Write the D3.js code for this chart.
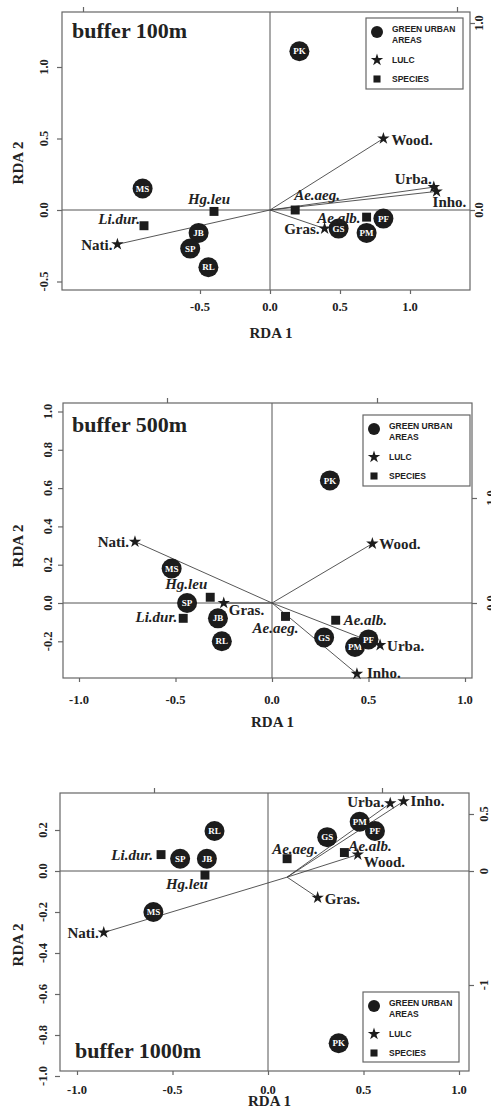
<!DOCTYPE html>
<html>
<head>
<meta charset="utf-8">
<script src="https://cdn.jsdelivr.net/npm/d3@7"></script>
<style>
  body { margin: 0; background: #fff; }
  svg { display: block; font-family: "Liberation Serif", "Times New Roman", serif; }
</style>
</head>
<body>
<svg id="chart" width="491" height="1107"></svg>
<script>
// category names
const siteCodes = ["PK", "MS", "JB", "SP", "RL", "GS", "PM", "PF"];
const lulcNames = ["Wood.", "Urba.", "Inho.", "Gras.", "Nati."];
const speciesNames = ["Ae.aeg.", "Ae.alb.", "Hg.leu", "Li.dur."];

// RDA1 / RDA2 scores (same order as the names above)
const sites100 = [[0.21, 1.11], [-0.91, 0.15], [-0.51, -0.16], [-0.57, -0.27], [-0.44, -0.40], [0.49, -0.13], [0.69, -0.16], [0.81, -0.06]];
const lulc100 = [[0.81, 0.50], [1.17, 0.16], [1.19, 0.13], [0.39, -0.13], [-1.09, -0.24]];
const species100 = [[0.18, 0.0], [0.69, -0.05], [-0.40, -0.01], [-0.90, -0.11]];
const origin100 = [0, 0];

const sites500 = [[0.30, 0.64], [-0.52, 0.18], [-0.28, -0.08], [-0.44, 0.0], [-0.26, -0.20], [0.27, -0.18], [0.43, -0.23], [0.50, -0.19]];
const lulc500 = [[0.52, 0.31], [0.56, -0.22], [0.44, -0.37], [-0.25, 0.0], [-0.71, 0.32]];
const species500 = [[0.07, -0.07], [0.33, -0.09], [-0.32, 0.03], [-0.46, -0.08]];
const origin500 = [0, 0];

const sites1000 = [[0.37, -0.84], [-0.60, -0.20], [-0.32, 0.06], [-0.46, 0.06], [-0.28, 0.195], [0.31, 0.165], [0.48, 0.24], [0.56, 0.195]];
const lulc1000 = [[0.47, 0.08], [0.64, 0.33], [0.71, 0.34], [0.26, -0.13], [-0.86, -0.30]];
const species1000 = [[0.10, 0.06], [0.40, 0.09], [-0.33, -0.02], [-0.56, 0.08]];
const origin1000 = [0.10, -0.03];

// tick labels
const xTicks100 = [-0.5, 0, 0.5, 1];
const yTicks100 = [-0.5, 0, 0.5, 1];
const xTicks500 = [-1, -0.5, 0, 0.5, 1];
const yTicks500 = [-0.2, 0, 0.2, 0.4, 0.6, 0.8, 1];
const xTicks1000 = [-1, -0.5, 0, 0.5, 1];
const yTicks1000 = [0.2, 0, -0.2, -0.4, -0.6, -0.8, -1];

const legendItems = [
  {type: "circle", lines: ["GREEN URBAN", "AREAS"]},
  {type: "star", lines: ["LULC"]},
  {type: "square", lines: ["SPECIES"]}
];

// layout of each panel (pixels)
const panels = [
  {
    title: "buffer 100m", sites: sites100, lulc: lulc100, species: species100, origin: origin100,
    xTicks: xTicks100, yTicks: yTicks100,
    box: {left: 62, right: 470, top: 12, bottom: 290}, x0: 270, y0: 210, xUnit: 140, yUnit: 143,
    sec: 187, topTicks: [-1, 1], rightTicks: [0, 1], rightFmt: ".1f", rightGap: 13,
    titlePos: [72, 38], yLabY: 163, xLabY: 338, tickY: 311, yTickGap: 14,
    legend: {x: 366, y: 18, w: 97, h: 71},
    labels: {
      "Wood.": [8, 6, "start"], "Urba.": [-2, -3, "end"], "Inho.": [-4, 16, "start"],
      "Gras.": [-5, 5, "end"], "Nati.": [-5, 6, "end"],
      "Ae.aeg.": [-1, -10, "start"], "Ae.alb.": [-6, 6, "end"], "Hg.leu": [-5, -7, "middle"], "Li.dur.": [-4, -2, "end"]
    }
  },
  {
    title: "buffer 500m", sites: sites500, lulc: lulc500, species: species500, origin: origin500,
    xTicks: xTicks500, yTicks: yTicks500,
    box: {left: 63, right: 472, top: 403, bottom: 678}, x0: 272, y0: 603, xUnit: 193, yUnit: 191.5,
    sec: 105, topTicks: [-1, 1], rightTicks: [0, 1], rightFmt: ".1f", rightGap: 23,
    titlePos: [72, 432], yLabY: 546, xLabY: 727, tickY: 704, yTickGap: 11,
    legend: {x: 363, y: 415, w: 107, h: 71},
    labels: {
      "Wood.": [7, 5, "start"], "Urba.": [7, 6, "start"], "Inho.": [10, 4, "start"],
      "Gras.": [5, 12, "start"], "Nati.": [-6, 5, "end"],
      "Ae.aeg.": [-10, 17, "middle"], "Ae.alb.": [8, 5, "start"], "Hg.leu": [-3, -8, "end"], "Li.dur.": [-6, 4, "end"]
    }
  },
  {
    title: "buffer 1000m", sites: sites1000, lulc: lulc1000, species: species1000, origin: origin1000,
    xTicks: xTicks1000, yTicks: yTicks1000,
    box: {left: 60, right: 469, top: 793, bottom: 1071}, x0: 268, y0: 871, xUnit: 191, yUnit: 205,
    sec: 114, topTicks: [-1, 1], rightTicks: [0.5, 0, -1], rightFmt: "~g", rightGap: 19,
    titlePos: [75, 1058], yLabY: 945, xLabY: 1106, tickY: 1094, yTickGap: 13,
    legend: {x: 363, y: 992, w: 96, h: 70},
    labels: {
      "Wood.": [6, 12, "start"], "Urba.": [-6, 4, "end"], "Inho.": [7, 5, "start"],
      "Gras.": [7, 6, "start"], "Nati.": [-5, 5, "end"],
      "Ae.aeg.": [8, -5, "middle"], "Ae.alb.": [4, -2, "start"], "Hg.leu": [3, 14, "end"], "Li.dur.": [-8, 5, "end"]
    }
  }
];

const ink = "#222";
const fmt = d => d3.format(".1f")(d).replace("\u2212", "-");

const svg = d3.select("#chart");

const star = d3.symbol().type(d3.symbolStar).size(48);
const square = d3.symbol().type(d3.symbolSquare).size(80);

function vText(g, x, y, txt) {
  return g.append("text")
    .attr("transform", `translate(${x},${y}) rotate(-90)`)
    .attr("text-anchor", "middle")
    .text(txt);
}

panels.forEach(p => {
  const b = p.box;
  const g = svg.append("g");

  const x = d3.scaleLinear()
    .domain([(b.left - p.x0) / p.xUnit, (b.right - p.x0) / p.xUnit])
    .range([b.left, b.right]);
  const y = d3.scaleLinear()
    .domain([(p.y0 - b.bottom) / p.yUnit, (p.y0 - b.top) / p.yUnit])
    .range([b.bottom, b.top]);
  // secondary (species) scales on top and right
  const x2 = d3.scaleLinear()
    .domain([(b.left - p.x0) / p.sec, (b.right - p.x0) / p.sec])
    .range([b.left, b.right]);
  const y2 = d3.scaleLinear()
    .domain([(p.y0 - b.bottom) / p.sec, (p.y0 - b.top) / p.sec])
    .range([b.bottom, b.top]);

  // zero lines
  g.append("line")
    .attr("x1", b.left).attr("x2", b.right)
    .attr("y1", y(0)).attr("y2", y(0))
    .attr("stroke", "#555").attr("stroke-width", 1);
  g.append("line")
    .attr("x1", x(0)).attr("x2", x(0))
    .attr("y1", b.top).attr("y2", b.bottom)
    .attr("stroke", "#555").attr("stroke-width", 1);

  // box
  g.append("rect")
    .attr("x", b.left).attr("y", b.top)
    .attr("width", b.right - b.left).attr("height", b.bottom - b.top)
    .attr("fill", "none").attr("stroke", "#666").attr("stroke-width", 1.2);

  // axes (ticks only)
  const tickStyle = sel => {
    sel.select(".domain").remove();
    sel.selectAll("line").attr("stroke", "#666").attr("stroke-width", 1.2);
    sel.selectAll("text").remove();
  };
  g.append("g").attr("transform", `translate(0,${b.bottom})`)
    .call(d3.axisBottom(x).tickValues(p.xTicks).tickSize(4)).call(tickStyle);
  g.append("g").attr("transform", `translate(${b.left},0)`)
    .call(d3.axisLeft(y).tickValues(p.yTicks).tickSize(5)).call(tickStyle);
  g.append("g").attr("transform", `translate(0,${b.top})`)
    .call(d3.axisTop(x2).tickValues(p.topTicks).tickSize(5)).call(tickStyle);
  g.append("g").attr("transform", `translate(${b.right},0)`)
    .call(d3.axisRight(y2).tickValues(p.rightTicks).tickSize(5)).call(tickStyle);

  // tick labels
  const tl = g.append("g")
    .attr("font-size", 12.5).attr("font-weight", "bold").attr("fill", ink);
  p.xTicks.forEach(t => {
    tl.append("text").attr("x", x(t)).attr("y", p.tickY)
      .attr("text-anchor", "middle").text(fmt(t));
  });
  p.yTicks.forEach(t => vText(tl, b.left - p.yTickGap, y(t), fmt(t)));
  const rf = d3.format(p.rightFmt);
  p.rightTicks.forEach(t => vText(tl, b.right + p.rightGap, y2(t), rf(t).replace("\u2212", "-")));

  // axis titles
  const at = g.append("g")
    .attr("font-size", 15).attr("font-weight", "bold").attr("fill", ink);
  at.append("text").attr("x", (b.left + b.right) / 2 + 5).attr("y", p.xLabY)
    .attr("text-anchor", "middle").text("RDA 1");
  vText(at, 23, p.yLabY, "RDA 2");

  // panel title
  g.append("text")
    .attr("x", p.titlePos[0]).attr("y", p.titlePos[1])
    .attr("font-size", 22).attr("font-weight", "bold").attr("fill", ink)
    .text(p.title);

  // LULC vectors
  const o = p.origin;
  g.append("g").selectAll("line")
    .data(p.lulc)
    .join("line")
    .attr("x1", x(o[0])).attr("y1", y(o[1]))
    .attr("x2", d => x(d[0])).attr("y2", d => y(d[1]))
    .attr("stroke", "#444").attr("stroke-width", 0.9);

  // sites
  const siteData = siteCodes.map((c, i) => ({name: c, v: p.sites[i]}));
  const sg = g.append("g").selectAll("g")
    .data(siteData)
    .join("g")
    .attr("transform", d => `translate(${x(d.v[0])},${y(d.v[1])})`);
  sg.append("circle").attr("r", 10).attr("fill", "#1c1c1c");
  sg.append("text")
    .attr("text-anchor", "middle").attr("dy", "0.35em")
    .attr("font-size", 9).attr("font-weight", "bold").attr("fill", "#fff")
    .text(d => d.name);

  // species squares
  const spData = speciesNames.map((n, i) => ({name: n, v: p.species[i]}));
  g.append("g").selectAll("path")
    .data(spData)
    .join("path")
    .attr("transform", d => `translate(${x(d.v[0])},${y(d.v[1])})`)
    .attr("d", square)
    .attr("fill", "#1c1c1c");
  g.append("g")
    .attr("font-size", 15).attr("font-weight", "bold").attr("font-style", "italic").attr("fill", ink)
    .selectAll("text")
    .data(spData)
    .join("text")
    .attr("x", d => x(d.v[0]) + p.labels[d.name][0])
    .attr("y", d => y(d.v[1]) + p.labels[d.name][1])
    .attr("text-anchor", d => p.labels[d.name][2])
    .text(d => d.name);

  // LULC stars
  const luData = lulcNames.map((n, i) => ({name: n, v: p.lulc[i]}));
  g.append("g").selectAll("path")
    .data(luData)
    .join("path")
    .attr("transform", d => `translate(${x(d.v[0])},${y(d.v[1])})`)
    .attr("d", star)
    .attr("fill", "#1c1c1c");
  g.append("g")
    .attr("font-size", 15).attr("font-weight", "bold").attr("fill", ink)
    .selectAll("text")
    .data(luData)
    .join("text")
    .attr("x", d => x(d.v[0]) + p.labels[d.name][0])
    .attr("y", d => y(d.v[1]) + p.labels[d.name][1])
    .attr("text-anchor", d => p.labels[d.name][2])
    .text(d => d.name);

  // legend
  const L = p.legend;
  const lg = g.append("g").attr("transform", `translate(${L.x},${L.y})`);
  lg.append("rect")
    .attr("width", L.w).attr("height", L.h)
    .attr("fill", "#fff").attr("stroke", "#666").attr("stroke-width", 1.2);
  const rowY = [14, 42, 61];
  legendItems.forEach((item, i) => {
    const cy = rowY[i];
    if (item.type === "circle") {
      lg.append("circle").attr("cx", 11).attr("cy", cy).attr("r", 6).attr("fill", "#1c1c1c");
    } else {
      lg.append("path")
        .attr("transform", `translate(11,${cy})`)
        .attr("d", d3.symbol().type(item.type === "star" ? d3.symbolStar : d3.symbolSquare).size(item.type === "star" ? 48 : 50))
        .attr("fill", "#1c1c1c");
    }
    item.lines.forEach((t, j) => {
      lg.append("text")
        .attr("x", 26).attr("y", cy + (item.lines.length > 1 ? 0 : 3) + j * 11)
        .attr("font-family", "'Liberation Sans', Arial, sans-serif")
        .attr("font-size", 8.5).attr("font-weight", "bold").attr("fill", ink)
        .text(t);
    });
  });
});
</script>
</body>
</html>
